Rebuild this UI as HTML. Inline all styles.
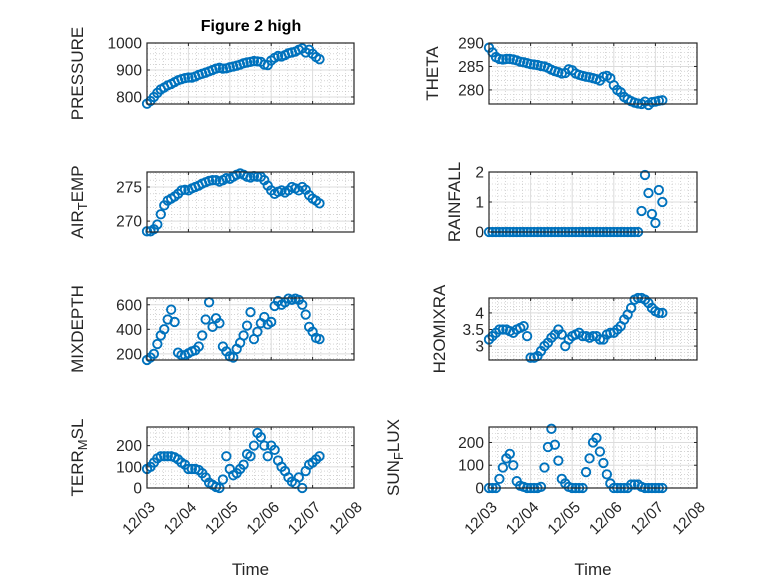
<!DOCTYPE html>
<html><head><meta charset="utf-8"><style>
body{margin:0;background:#fff}
svg{display:block;font-family:"Liberation Sans",sans-serif}
</style></head><body>
<svg id="fig" width="778" height="583" viewBox="0 0 778 583" xmlns="http://www.w3.org/2000/svg">
<rect width="778" height="583" fill="#fff"/>
<text x="251" y="31" text-anchor="middle" font-size="16" font-weight="bold" fill="#000">Figure 2 high</text>
</svg>
<script>
const hours = [];
for (let h = 0; h <= 100; h += 2) hours.push(h);
const xTickLabels = ["12/03","12/04","12/05","12/06","12/07","12/08"];
const pressure = [775,785,800,815,828,835,843,848,855,862,866,870,872,872,876,882,886,890,895,900,905,908,905,906,910,913,916,920,925,928,930,933,932,930,920,918,935,945,952,950,955,962,965,968,975,980,965,975,960,948,940];
const theta = [289,288,287,286.6,286.5,286.6,286.6,286.5,286.3,286,285.9,285.7,285.5,285.4,285.3,285.1,285,284.7,284.3,284,283.8,283.5,283.6,284.4,284.2,283.5,283.2,283,282.8,282.7,282.5,282.3,282,282.8,283,282.5,281,280,279.5,278.5,278,277.6,277.3,277.1,277,277.5,276.8,277.4,277.5,277.7,277.8];
const airTemp = [268.5,268.5,268.8,269.5,271,272.3,273,273.3,273.6,274,274.5,274.6,274.5,274.8,275,275.2,275.5,275.7,275.9,276,276,275.8,276,276.3,276.2,276.5,276.8,277,276.8,276.5,276.4,276.6,276.5,276.5,276,275.2,274.5,274,274.3,274.5,274.2,274.5,275,274.8,274.5,275,274.6,273.8,273.3,273,272.6];
const rainfall = [0,0,0,0,0,0,0,0,0,0,0,0,0,0,0,0,0,0,0,0,0,0,0,0,0,0,0,0,0,0,0,0,0,0,0,0,0,0,0,0,0,0,0,0,0.7,1.9,1.3,0.6,0.3,1.4,1.0];
const mixDepth = [150,170,200,280,350,400,480,560,460,210,190,190,205,220,230,260,350,480,620,420,490,450,260,220,180,170,240,290,350,430,540,320,380,450,500,440,460,590,630,600,620,650,640,650,640,600,520,420,380,330,320];
const h2oMix = [3.2,3.3,3.4,3.5,3.5,3.5,3.45,3.4,3.5,3.55,3.6,3.3,2.65,2.65,2.7,2.85,3.0,3.1,3.25,3.35,3.5,3.35,3.0,3.2,3.3,3.35,3.4,3.3,3.3,3.25,3.3,3.3,3.2,3.2,3.35,3.4,3.4,3.5,3.6,3.8,3.95,4.15,4.4,4.45,4.45,4.4,4.3,4.15,4.05,4.0,4.0];
const terrMsl = [90,100,120,140,150,150,150,150,145,135,120,110,90,90,90,85,70,50,25,15,5,0,40,150,90,60,70,90,110,160,150,200,260,240,200,150,200,180,130,100,80,50,30,20,50,0,80,110,120,135,150];
const sunFlux = [0,0,0,40,90,130,150,100,30,10,5,0,0,0,0,5,90,180,260,190,120,40,20,5,0,0,0,0,70,130,200,220,160,110,60,20,0,0,0,0,0,15,15,15,5,0,0,0,0,0,0];

const NS = "http://www.w3.org/2000/svg";
const svg = document.getElementById('fig');
function mk(tag, attrs, parent){const e=document.createElementNS(NS,tag);for(const k in attrs)e.setAttribute(k,attrs[k]);(parent||svg).appendChild(e);return e;}

const panels = [
 {name:'pressure',x0:147,x1:354,y0:43,y1:104,min:774,max:1000,ticks:[800,900,1000],minor:20,data:pressure,lab:['PRESSURE'],lx:83,xt:false},
 {name:'theta',x0:489,x1:697,y0:43,y1:104,min:277,max:290,ticks:[280,285,290],minor:1,data:theta,lab:['THETA'],lx:438,xt:false},
 {name:'air-temp',x0:147,x1:354,y0:172,y1:232,min:268.4,max:277.2,ticks:[270,275],minor:1,data:airTemp,lab:['AIR','T','EMP'],lx:83,xt:false},
 {name:'rainfall',x0:489,x1:697,y0:172,y1:232,min:0,max:2,ticks:[0,1,2],minor:0.2,data:rainfall,lab:['RAINFALL'],lx:460,xt:false},
 {name:'mixdepth',x0:147,x1:354,y0:298,y1:360,min:150,max:655,ticks:[200,400,600],minor:40,data:mixDepth,lab:['MIXDEPTH'],lx:83,xt:false},
 {name:'h2omixra',x0:489,x1:697,y0:298,y1:360,min:2.58,max:4.45,ticks:[3,3.5,4],minor:0.1,data:h2oMix,lab:['H2OMIXRA'],lx:445,xt:false},
 {name:'terr-msl',x0:147,x1:354,y0:427,y1:488,min:0,max:288,ticks:[0,100,200],minor:20,data:terrMsl,lab:['TERR','M','SL'],lx:83,xt:true},
 {name:'sun-flux',x0:489,x1:697,y0:427,y1:488,min:0,max:268,ticks:[0,100,200],minor:20,data:sunFlux,lab:['SUN','F','LUX'],lx:399,xt:true}
];

panels.forEach(p=>{
  const g = mk('g',{});
  
  
  const xs = h => p.x0 + (h/120)*(p.x1-p.x0);
  const ys = v => p.y1 - (v-p.min)/(p.max-p.min)*(p.y1-p.y0);
  for(let d=0; d<=25; d++){ if(d%5===0) continue; const x=xs(d*4.8);
    mk('line',{x1:x,x2:x,y1:p.y0,y2:p.y1,stroke:'#bbb','stroke-width':0.6,'stroke-dasharray':'1 2'},g);}
  const start = Math.ceil(p.min/p.minor);
  for(let k=start; k*p.minor<=p.max; k++){ const v=k*p.minor; const y=ys(v);
    mk('line',{x1:p.x0,x2:p.x1,y1:y,y2:y,stroke:'#bbb','stroke-width':0.6,'stroke-dasharray':'1 2'},g);}
  for(let d=1; d<5; d++){const x=xs(d*24); mk('line',{x1:x,x2:x,y1:p.y0,y2:p.y1,stroke:'#dcdcdc','stroke-width':1},g);}
  p.ticks.forEach(v=>{const y=ys(v); mk('line',{x1:p.x0,x2:p.x1,y1:y,y2:y,stroke:'#dcdcdc','stroke-width':1},g);
    mk('line',{x1:p.x0,x2:p.x0+3,y1:y,y2:y,stroke:'#262626'},g);
    mk('line',{x1:p.x1,x2:p.x1-3,y1:y,y2:y,stroke:'#262626'},g);
    const t=mk('text',{x:p.x0-5,y:y+5.5,'text-anchor':'end','font-size':15.5,fill:'#262626'},g); t.textContent=String(v);
    
    
  });
  for(let d=0; d<=5; d++){const x=xs(d*24);
    mk('line',{x1:x,x2:x,y1:p.y1,y2:p.y1-3,stroke:'#262626'},g);
    mk('line',{x1:x,x2:x,y1:p.y0,y2:p.y0+3,stroke:'#262626'},g);
    if(p.xt){const tx=x+9, ty=p.y1+20;
      const t=mk('text',{x:tx,y:ty,'text-anchor':'end','font-size':15.5,fill:'#262626',transform:`rotate(-45 ${tx} ${ty})`},g); t.textContent=xTickLabels[d];
      
      }
  }
  p.data.forEach((v,i)=>{const c=mk('circle',{cx:xs(hours[i]),cy:ys(v),r:4.2,fill:'none',stroke:'#0072BD','stroke-width':1.9},g);
    
    });
  mk('rect',{x:p.x0,y:p.y0,width:p.x1-p.x0,height:p.y1-p.y0,fill:'none',stroke:'#262626','stroke-width':1.2},g);
  const cy=(p.y0+p.y1)/2;
  const t=mk('text',{x:p.lx,y:cy,'text-anchor':'middle','font-size':17,fill:'#262626',transform:`rotate(-90 ${p.lx} ${cy})`},g);
  
  
  if(p.lab.length===1){t.textContent=p.lab[0];}
  else{const a=mk('tspan',{},t);a.textContent=p.lab[0];
    const b=mk('tspan',{'dy':4,'font-size':13},t);b.textContent=p.lab[1];
    const c=mk('tspan',{'dy':-4},t);c.textContent=p.lab[2];}
  if(p.xt){const tl=mk('text',{x:(p.x0+p.x1)/2,y:575,'text-anchor':'middle','font-size':17,fill:'#262626'},g); tl.textContent='Time';
    
    }
});
</script>
</body></html>
